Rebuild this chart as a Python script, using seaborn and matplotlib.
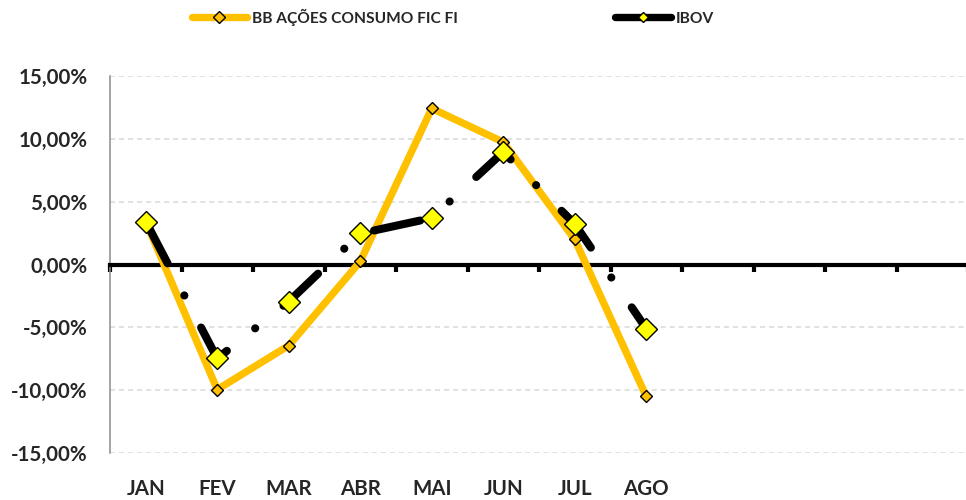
import numpy as np
import pandas as pd
import matplotlib
matplotlib.use("Agg")
import matplotlib.pyplot as plt
import seaborn as sns

months = ["JAN", "FEV", "MAR", "ABR", "MAI", "JUN", "JUL", "AGO"]
n_slots = 12
bb_fund = [3.42, -9.95, -6.45, 0.24, 12.42, 9.74, 1.99, -10.50]
ibov = [3.42, -7.48, -2.95, 2.47, 3.70, 8.95, 3.22, -5.10]
yticks = [-15, -10, -5, 0, 5, 10, 15]
ylabels = ["-15,00%", "-10,00%", "-5,00%", "0,00%", "5,00%", "10,00%", "15,00%"]
series_names = ["BB AÇÕES CONSUMO FIC FI", "IBOV"]

sns.set_theme(style="white")
plt.rcParams["font.family"] = ["Lato", "DejaVu Sans"]
plt.rcParams["lines.scale_dashes"] = False

W = "bold"

df = pd.DataFrame({"pos": np.arange(len(months)), "bb": bb_fund, "ibov": ibov})

fig = plt.figure(figsize=(9.66, 5.0), dpi=100)
ax = fig.add_axes([110 / 966, 47 / 500, 858 / 966, 377 / 500])

orange = "#FFC000"
sns.lineplot(data=df, x="pos", y="bb", ax=ax, color=orange, linewidth=5.3,
             marker="D", markersize=6.6, markerfacecolor=orange,
             markeredgecolor="black", markeredgewidth=1.0,
             solid_joinstyle="round", solid_capstyle="round",
             label=series_names[0], zorder=3)
sns.lineplot(data=df, x="pos", y="ibov", ax=ax, color="black", linewidth=5.8,
             linestyle=(0, (34.0, 26.0, 0.1, 26.0)),
             dash_capstyle="round", dash_joinstyle="round",
             marker="D", markersize=11.7, markerfacecolor="#FFFF00",
             markeredgecolor="black", markeredgewidth=1.0,
             label=series_names[1], zorder=4)

ax.set_xlim(-0.5, n_slots - 0.5)
ax.set_ylim(-15, 15)
ax.set_xlabel("")
ax.set_ylabel("")

# y axis
ax.set_yticks(yticks, labels=ylabels)
ax.tick_params(axis="y", direction="out", length=5, width=1.1, color="#8C8C8C",
               pad=11, labelsize=14.8)
for lab in ax.get_yticklabels():
    lab.set_fontweight(W)
ax.yaxis.grid(True, color="#D9D9D9", linestyle=(0, (3.6, 2.9)), linewidth=1.1)
ax.xaxis.grid(False)
ax.spines["left"].set_color("#8C8C8C")
ax.spines["left"].set_linewidth(1.1)
ax.spines["top"].set_visible(False)
ax.spines["right"].set_visible(False)

# zero axis with boundary ticks
ax.spines["bottom"].set_position(("data", 0))
ax.spines["bottom"].set_color("black")
ax.spines["bottom"].set_linewidth(3.0)
ax.spines["bottom"].set_zorder(2.5)
ax.set_xticks(np.arange(-0.5, n_slots, 1.0))
ax.tick_params(axis="x", direction="out", length=5, width=3.0, color="black",
               labelbottom=False, bottom=True)

# category labels at the bottom
sec = ax.secondary_xaxis("bottom")
sec.set_xticks(np.arange(len(months)), labels=months)
sec.spines["bottom"].set_visible(False)
sec.tick_params(axis="x", length=0, pad=19, labelsize=14.8)
for lab in sec.get_xticklabels():
    lab.set_fontweight(W)

# legend
handles, labels = ax.get_legend_handles_labels()
if ax.get_legend():
    ax.get_legend().remove()
leg = fig.legend(handles, labels, loc="center", bbox_to_anchor=(0.469, 1 - 17 / 500),
                 ncol=2, frameon=False, handlelength=3.55, handletextpad=0.35,
                 columnspacing=10.1, prop={"weight": W, "size": 11.2})
for h in leg.legend_handles:
    h.set_linestyle("-")
    h.set_solid_capstyle("round")
    h.set_linewidth(5.3)
leg.legend_handles[0].set_markersize(6.5)
leg.legend_handles[1].set_markersize(5.5)

fig.savefig("out.png", dpi=100)
